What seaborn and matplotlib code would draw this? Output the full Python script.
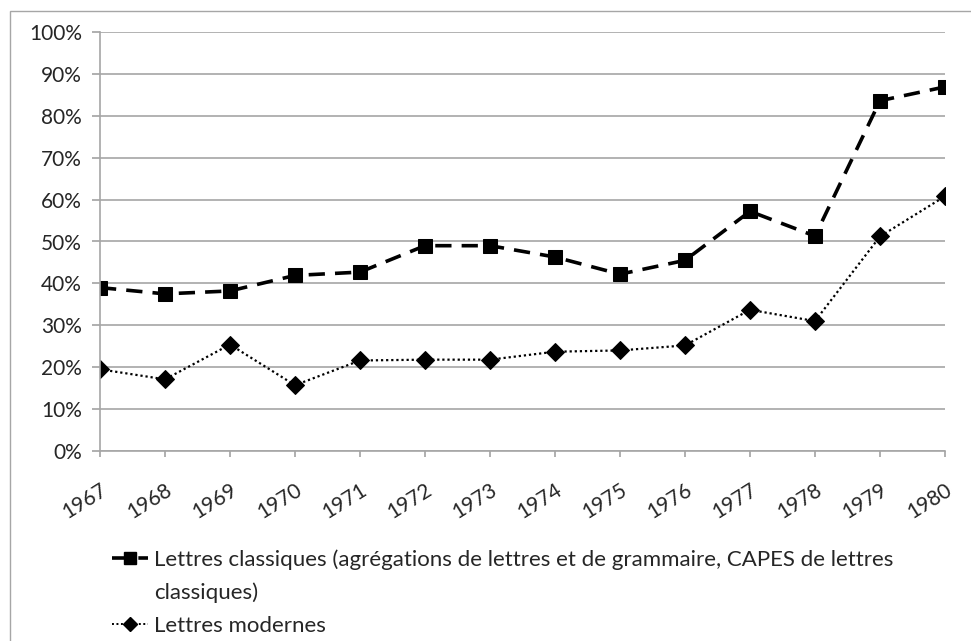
#! /usr/bin/env python3
import seaborn as sns
import pandas as pd
import matplotlib.pyplot as plt
from matplotlib.ticker import PercentFormatter
from matplotlib import patches as mpatches

# Data (share in %)
YEARS = [1967, 1968, 1969, 1970, 1971, 1972, 1973, 1974, 1975, 1976, 1977, 1978, 1979, 1980]
CLASSIQUES = [39.0, 37.5, 38.2, 41.9, 42.7, 49.0, 49.0, 46.3, 42.2, 45.5, 57.2, 51.3, 83.6, 86.9]
MODERNES = [19.5, 17.1, 25.4, 15.7, 21.6, 21.8, 21.8, 23.7, 24.0, 25.2, 33.7, 31.0, 51.2, 60.8]

LABEL_CLASSIQUES = "Lettres classiques (agrégations de lettres et de grammaire, CAPES de lettres"
LABEL_CLASSIQUES_SUITE = "classiques)"
LABEL_MODERNES = "Lettres modernes"

GRID_GREY = "#a6a6a6"
DASH_CLASSIQUES = (4.5, 2.8)
DASH_MODERNES = (1, 1.3)


def main():
    sns.set_theme(style='white')
    plt.rcParams['font.family'] = ['Lato', 'DejaVu Sans']

    df = pd.concat([
        pd.DataFrame({'year': YEARS, 'value': CLASSIQUES, 'serie': 'classiques'}),
        pd.DataFrame({'year': YEARS, 'value': MODERNES, 'serie': 'modernes'}),
    ], ignore_index=True)

    f = plt.figure(figsize=(9.71, 6.41), dpi=100)
    ax = f.add_axes([100 / 971, 1 - 451 / 641, 845 / 971, 419 / 641])

    # outer chart border (only left and top edges fall inside the image)
    f.patches.append(mpatches.Rectangle((10 / 971, -0.1), 1.2, 1.1 - 11 / 641,
                                        transform=f.transFigure, fill=False,
                                        edgecolor=GRID_GREY, linewidth=1))

    palette = {'classiques': 'black', 'modernes': 'black'}
    markers = {'classiques': 's', 'modernes': 'D'}
    dashes = {'classiques': DASH_CLASSIQUES, 'modernes': DASH_MODERNES}
    sns.lineplot(data=df, x='year', y='value', hue='serie', style='serie',
                 palette=palette, markers=markers, dashes=dashes, ax=ax,
                 markersize=10, markeredgecolor='black', legend=False)
    # line widths / marker sizes per series
    ax.lines[0].set_linewidth(2.6)
    ax.lines[1].set_linewidth(1.6)
    ax.lines[1].set_markersize(9)

    ax.set_xlim(YEARS[0], YEARS[-1])
    ax.set_ylim(0, 100)
    ax.set_xticks(YEARS)
    ax.set_xticklabels([str(y) for y in YEARS], rotation=32, ha='right', va='top',
                       rotation_mode='anchor', fontsize=15)
    ax.set_yticks(range(0, 101, 10))
    ax.yaxis.set_major_formatter(PercentFormatter(decimals=0))
    ax.tick_params(axis='y', labelsize=15, length=6, color=GRID_GREY, left=True, pad=7)
    ax.tick_params(axis='x', length=4.5, color=GRID_GREY, bottom=True, pad=16)
    ax.set_xlabel('')
    ax.set_ylabel('')
    ax.grid(axis='y', color=GRID_GREY, linewidth=1.2)
    ax.set_axisbelow(True)
    for side in ['top', 'right']:
        ax.spines[side].set_visible(False)
    for side in ['left', 'bottom']:
        ax.spines[side].set_color(GRID_GREY)
        ax.spines[side].set_linewidth(1.2)

    # legend below the plot; the wrapped second line gets an empty handle
    h1 = plt.Line2D([], [], color='black', linestyle=(0, DASH_CLASSIQUES), linewidth=2.6,
                    marker='s', markersize=8)
    h_blank = plt.Line2D([], [], color='none')
    h2 = plt.Line2D([], [], color='black', linestyle=(0, DASH_MODERNES), linewidth=1.4,
                    marker='D', markersize=7)
    f.legend([h1, h_blank, h2], [LABEL_CLASSIQUES, LABEL_CLASSIQUES_SUITE, LABEL_MODERNES],
             loc='upper left', bbox_to_anchor=(112 / 971, 1 - 549 / 641), frameon=False,
             fontsize=16, handlelength=1.6, handletextpad=0.3, labelspacing=0.58,
             borderpad=0, borderaxespad=0)

    f.savefig("out.png", dpi=100)


if __name__ == "__main__":
    main()
